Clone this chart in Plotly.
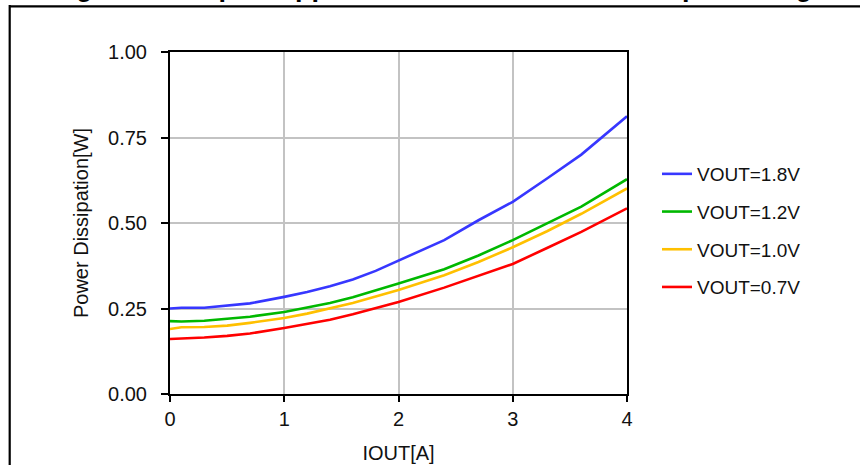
import plotly.graph_objects as go

# ---- data ----
iout = [0, 0.1, 0.3, 0.5, 0.7, 1.0, 1.2, 1.4, 1.6, 1.8, 2.0, 2.4, 2.7, 3.0, 3.3, 3.6, 4.0]
p_18 = [0.250, 0.252, 0.252, 0.259, 0.265, 0.284, 0.298, 0.315, 0.335, 0.360, 0.390, 0.450, 0.508, 0.562, 0.630, 0.700, 0.812]
p_12 = [0.213, 0.212, 0.214, 0.220, 0.226, 0.240, 0.252, 0.266, 0.283, 0.302, 0.323, 0.365, 0.405, 0.450, 0.498, 0.548, 0.628]
p_10 = [0.190, 0.195, 0.196, 0.200, 0.208, 0.222, 0.235, 0.250, 0.266, 0.285, 0.304, 0.347, 0.386, 0.429, 0.476, 0.527, 0.601]
p_07 = [0.161, 0.162, 0.165, 0.170, 0.177, 0.193, 0.204, 0.217, 0.233, 0.250, 0.269, 0.311, 0.345, 0.380, 0.427, 0.474, 0.543]

series_names = ["VOUT=1.8V", "VOUT=1.2V", "VOUT=1.0V", "VOUT=0.7V"]
series_vals = [p_18, p_12, p_10, p_07]
series_colors = ["#3737FF", "#00B800", "#FFC000", "#FF0000"]

x_ticks = [0, 1, 2, 3, 4]
y_ticks = [0.0, 0.25, 0.5, 0.75, 1.0]
y_tick_text = ["0.00", "0.25", "0.50", "0.75", "1.00"]

title_text = "Figure 8. Output Ripple vs. Load Current and Output Voltage"

FONT = "Liberation Sans, Arial, sans-serif"
TXT = "#111111"

fig = go.Figure()
for i, (name, vals, col) in enumerate(zip(series_names, series_vals, series_colors)):
    fig.add_trace(go.Scatter(
        x=iout, y=vals, mode="lines", name=name,
        line=dict(color=col, width=2.6),
        legendgroup=f"g{i}",
    ))

W, H = 860, 465
L, R, T, B = 170, 233, 52, 71
pw, ph = W - L - R, H - T - B

def px_x(px):
    return (px - L) / pw

def px_y(py):
    return (H - B - py) / ph

fig.update_layout(
    width=W, height=H, autosize=False,
    margin=dict(l=L, r=R, t=T, b=B, pad=0, autoexpand=False),
    paper_bgcolor="white", plot_bgcolor="white",
    font=dict(family=FONT, size=20, color=TXT),
    showlegend=True,
    legend=dict(
        x=px_x(657), y=px_y(155), xanchor="left", yanchor="top",
        font=dict(family=FONT, size=19, color=TXT),
        bgcolor="rgba(0,0,0,0)", borderwidth=0,
        tracegroupgap=10, traceorder="grouped",
    ),
    xaxis=dict(
        range=[0, 4], tickvals=x_ticks, ticktext=[str(v) for v in x_ticks],
        showline=True, linecolor="black", linewidth=2, mirror=True,
        showgrid=True, gridcolor="#C3C3C3", gridwidth=2,
        ticks="outside", ticklen=6, tickwidth=2, tickcolor="black",
        tickfont=dict(family=FONT, size=20, color=TXT),
        zeroline=False, automargin=False,
        title=dict(text="IOUT[A]", font=dict(family=FONT, size=20, color=TXT), standoff=17),
    ),
    yaxis=dict(
        range=[0, 1], tickvals=y_ticks, ticktext=y_tick_text,
        showline=True, linecolor="black", linewidth=2, mirror=True,
        showgrid=True, gridcolor="#C3C3C3", gridwidth=2,
        ticks="outside", ticklen=7, tickwidth=2, tickcolor="black",
        ticklabelstandoff=10,
        tickfont=dict(family=FONT, size=20, color=TXT),
        zeroline=False, automargin=False,
        title=dict(text="Power Dissipation[W]", font=dict(family=FONT, size=20, color=TXT), standoff=14),
    ),
)

# page frame (top rule and left rule)
fig.add_shape(type="line", xref="paper", yref="paper",
              x0=px_x(9), x1=px_x(865), y0=px_y(6.3), y1=px_y(6.3),
              line=dict(color="black", width=2.2))
fig.add_shape(type="line", xref="paper", yref="paper",
              x0=px_x(9.7), x1=px_x(9.7), y0=px_y(5), y1=px_y(470),
              line=dict(color="black", width=2.2))

# figure caption, mostly cut off at the top edge
fig.add_annotation(text=title_text, xref="paper", yref="paper",
                   x=px_x(439), y=px_y(2.5), xanchor="center", yanchor="bottom",
                   showarrow=False, borderpad=0,
                   font=dict(family=FONT, size=27, color="black", weight="bold"))

fig.write_html(
    "out.html",
    config={"displayModeBar": False, "responsive": False},
    post_script="document.body.style.margin='0';document.body.style.overflow='hidden';",
)
